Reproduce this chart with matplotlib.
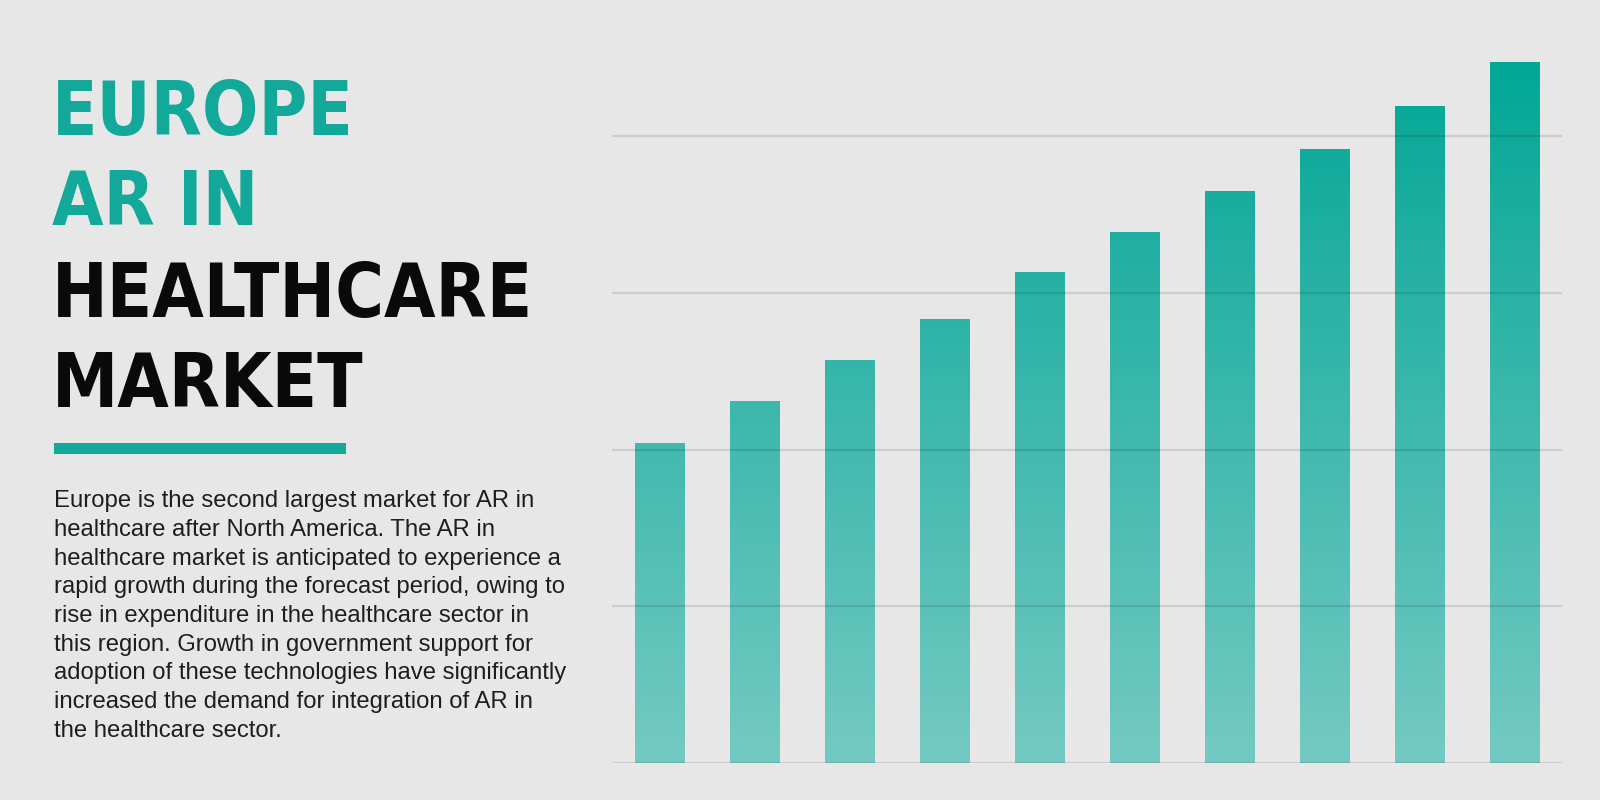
import numpy as np
import matplotlib
matplotlib.use("Agg")
import matplotlib.pyplot as plt
from matplotlib import font_manager as fm
from matplotlib.colors import LinearSegmentedColormap
from matplotlib.patches import Rectangle
from matplotlib.textpath import TextPath
from matplotlib.font_manager import FontProperties

# ---- data ----
bar_values = [2.04, 2.31, 2.57, 2.83, 3.13, 3.39, 3.65, 3.92, 4.19, 4.47]
bar_positions = list(range(len(bar_values)))
grid_levels = [0, 1, 2, 3, 4]
title_lines_teal = ["EUROPE", "AR IN"]
title_lines_black = ["HEALTHCARE", "MARKET"]
body_lines = [
    "Europe is the second largest market for AR in",
    "healthcare after North America. The AR in",
    "healthcare market is anticipated to experience a",
    "rapid growth during the forecast period, owing to",
    "rise in expenditure in the healthcare sector in",
    "this region. Growth in government support for",
    "adoption of these technologies have significantly",
    "increased the demand for integration of AR in",
    "the healthcare sector.",
]

BG = "#E7E7E7"
TEAL = "#12A89A"
DPI = 100


def _num(v, table, default):
    if isinstance(v, str):
        return table.get(v, default)
    return v


def pick_title_props():
    cands = []
    for f in fm.fontManager.ttflist:
        st = _num(f.stretch, fm.stretch_dict, 500)
        w = _num(f.weight, fm.weight_dict, 400)
        if st < 500 and w >= 600 and f.style == "normal":
            cands.append((st, abs(w - 700), f.fname))
    if cands:
        cands.sort()
        return FontProperties(fname=cands[0][2])
    for fam in ["Liberation Sans Narrow", "Roboto", "DejaVu Sans"]:
        if fam in {f.name for f in fm.fontManager.ttflist}:
            return FontProperties(family=fam, weight="bold")
    return FontProperties(family="DejaVu Sans", weight="bold")


title_fp = pick_title_props()
# size so that cap height ~61 px, but keep the widest line within ~470 px
title_fp.set_size(100)
cap_h = TextPath((0, 0), "H", prop=title_fp).get_extents().height * DPI / 72
wid = TextPath((0, 0), "HEALTHCARE", prop=title_fp).get_extents().width * DPI / 72
size = min(100 * 61 / cap_h, 100 * 470 / wid)
title_fp.set_size(size)

W, H = 1600, 800
fig = plt.figure(figsize=(16, 8), dpi=DPI, facecolor=BG)

# ---- chart ----
ymax = 4.6
ax = fig.add_axes([612 / W, 37 / H, 950 / W, ymax * 156.75 / H])
ax.set_facecolor(BG)
for s in ax.spines.values():
    s.set_visible(False)
ax.set_xticks([])
ax.set_yticks([])

for g in grid_levels:
    ax.axhline(g, color=(0, 0, 0, 0.11), lw=1.6, zorder=3)

cmap = LinearSegmentedColormap.from_list("tealgrad", ["#74CAC2", "#3DB8AD", "#02A795"])
bars = ax.bar(bar_positions, bar_values, width=0.526, color="none", edgecolor="none", zorder=2)
grad = np.linspace(0, 1, 256).reshape(-1, 1)
top = max(bar_values)
for b in bars:
    im = ax.imshow(grad, cmap=cmap, origin="lower", aspect="auto",
                   extent=[-0.5, len(bar_values) - 0.5, 0, top], zorder=2,
                   interpolation="bilinear")
    im.set_clip_path(b)
ax.set_xlim(-0.5, len(bar_values) - 0.5)
ax.set_ylim(0, ymax)

# ---- title ----
baselines = [135, 225, 317, 407]
lines = title_lines_teal + title_lines_black
colors = [TEAL] * len(title_lines_teal) + ["#0A0A0A"] * len(title_lines_black)
for txt, yb, c in zip(lines, baselines, colors):
    fig.text(52 / W, 1 - yb / H, txt, fontproperties=title_fp,
             color=c, va="baseline", ha="left")

# underline bar
fig.patches.append(Rectangle((54 / W, 1 - 454 / H), 292 / W, 11 / H,
                             transform=fig.transFigure, facecolor=TEAL,
                             edgecolor="none"))

# ---- paragraph ----
for i, line in enumerate(body_lines):
    yb = 507.3 + i * 28.7
    fig.text(54 / W, 1 - yb / H, line, family=["Liberation Sans", "DejaVu Sans"],
             fontsize=17.2, color="#1E1E1E", va="baseline", ha="left")

fig.savefig("out.png", dpi=DPI, facecolor=BG)
